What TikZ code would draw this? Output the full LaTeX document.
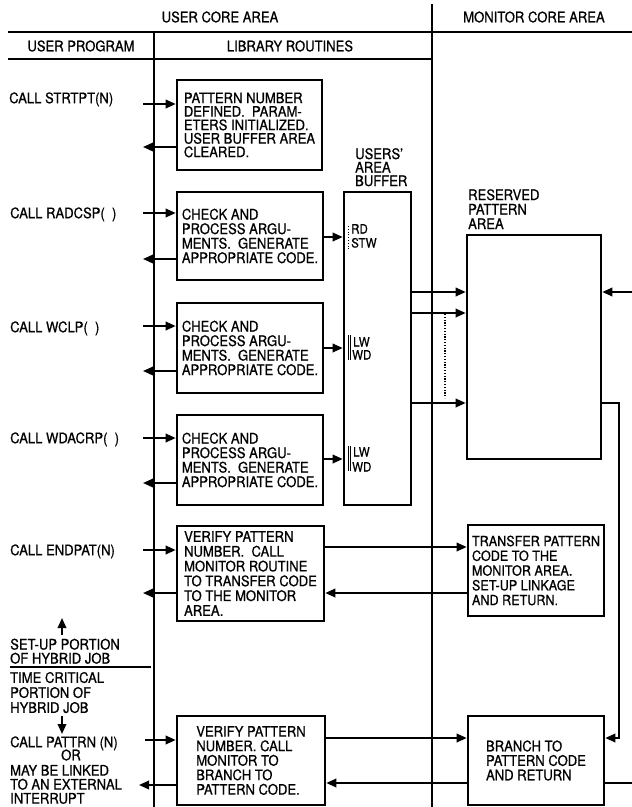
\documentclass[tikz,border=0pt]{standalone}
\usepackage{fontspec}
\setmainfont{TeX Gyre Heros}[FakeBold=0.7, FakeStretch=0.9]
\usetikzlibrary{arrows.meta}
\newcommand\fsm{\fontsize{14.5}{14.5}\selectfont}
\newcommand\fsa{\fontsize{14.5}{13.5}\selectfont}
\newcommand\fsb{\fontsize{14.5}{14.8}\selectfont}
\newcommand\fst{\fontsize{14}{14.75}\selectfont}
\newcommand\fsl{\fontsize{12.8}{13}\selectfont}
\begin{document}
\begin{tikzpicture}[x=1pt,y=-1pt,
  pbox/.style={draw, line width=2.6pt, rectangle, align=left, inner sep=0pt, font=\fsm},
  arr/.style={line width=1.8pt, -{Triangle[length=10pt,width=8.5pt]}},
  ln/.style={line width=1.8pt},
  hdr/.style={line width=2.1pt},
  thin/.style={line width=0.8pt},
  lbl/.style={inner sep=0pt, font=\fsm},
  mlbl/.style={inner sep=0pt, font=\fsm, align=left, anchor=north west}
]
\useasboundingbox (0,0) rectangle (632,807);

% ---------- header ----------
\node[lbl] (hUser) at (220,17) {USER CORE AREA};
\node[lbl] (hMon)  at (534,17) {MONITOR CORE AREA};
\node[lbl] (hProg) at (81,46) {USER PROGRAM};
\node[lbl] (hLib)  at (290,46) {LIBRARY ROUTINES};
\coordinate (gA) at (8,32);   \coordinate (gB) at (632,32);
\coordinate (gC) at (8,59);   \coordinate (gD) at (432,59);
\coordinate (vA) at (154,32); \coordinate (vB) at (154,807);
\coordinate (vC) at (432,4);  \coordinate (vD) at (432,807);
\draw[hdr] (gA) -- (gB);
\draw[hdr] (gC) -- (gD);
\draw[hdr] (vA) -- (vB);
\draw[hdr] (vC) -- (vD);

% ---------- library routine boxes ----------
\node[pbox, font=\fsa, minimum width=145pt, minimum height=90pt] (b1) at (249.5,125)
  {PATTERN NUMBER\\DEFINED.~~PARAM-\\ETERS INITIALIZED.\\USER BUFFER AREA\\CLEARED.};
\node[pbox, minimum width=146pt, minimum height=88pt] (b2) at (250,236)
  {CHECK AND\\PROCESS ARGU-\\MENTS.~~GENERATE\\APPROPRIATE CODE.};
\node[pbox, minimum width=146pt, minimum height=90pt] (b3) at (250,348)
  {CHECK AND\\PROCESS ARGU-\\MENTS.~~GENERATE\\APPROPRIATE CODE.};
\node[pbox, minimum width=146pt, minimum height=90pt] (b4) at (250,460)
  {CHECK AND\\PROCESS ARGU-\\MENTS.~~GENERATE\\APPROPRIATE CODE.};
\node[pbox, font=\fsb, minimum width=147pt, minimum height=95pt] (b5) at (250.5,573.5)
  {VERIFY PATTERN\\NUMBER.~~CALL\\MONITOR ROUTINE\\TO TRANSFER CODE\\TO THE MONITOR\\AREA.};
\node[pbox, minimum width=148pt, minimum height=89pt] (b6) at (251,760.5)
  {VERIFY PATTERN\\NUMBER. CALL\\MONITOR TO\\BRANCH TO\\PATTERN CODE.};

% ---------- buffer and monitor boxes ----------
\node[pbox, minimum width=67pt, minimum height=313pt] (bf) at (377.5,348.5) {};
\node[pbox, minimum width=134pt, minimum height=224pt] (rb) at (534,347) {};
\node[pbox, font=\fst, minimum width=136pt, minimum height=91pt] (b7) at (536,570.5)
  {TRANSFER PATTERN\\CODE TO THE\\MONITOR AREA.\\SET-UP LINKAGE\\AND RETURN.};
\node[pbox, minimum width=136pt, minimum height=89pt] (b8) at (536,760.5)
  {BRANCH TO\\PATTERN CODE\\AND RETURN};

\node[mlbl, font=\fsa] (tUsr) at (355,148) {USERS'\\AREA\\BUFFER};
\node[mlbl] (tRes) at (468,189) {RESERVED\\PATTERN\\AREA};

% buffer labels
\node[lbl, font=\fsl, anchor=base west] (lRD)  at (351,233.5) {RD};
\node[lbl, font=\fsl, anchor=base west] (lSTW) at (351,247.5) {STW};
\node[lbl, font=\fsl, anchor=base west] (lLW1) at (353,346.5) {LW};
\node[lbl, font=\fsl, anchor=base west] (lWD1) at (352,359.5) {WD};
\node[lbl, font=\fsl, anchor=base west] (lLW2) at (353,456.5) {LW};
\node[lbl, font=\fsl, anchor=base west] (lWD2) at (352,471.5) {WD};
\coordinate (kA1) at (348,226); \coordinate (kA2) at (348,249);
\draw[thin, dotted] (kA1) -- (kA2);
\coordinate (kB1) at (348,335); \coordinate (kB2) at (348,360);
\coordinate (kB3) at (350.5,335); \coordinate (kB4) at (350.5,360);
\draw[thin] (kB1) -- (kB2); \draw[thin] (kB3) -- (kB4);
\coordinate (kC1) at (348,446); \coordinate (kC2) at (348,471);
\coordinate (kC3) at (350.5,446); \coordinate (kC4) at (350.5,471);
\draw[thin] (kC1) -- (kC2); \draw[thin] (kC3) -- (kC4);

% ---------- user program labels ----------
\node[lbl, anchor=base west] (c1) at (9,103.2)  {CALL STRTPT(N)};
\node[lbl, anchor=base west] (c2) at (10,218.2) {CALL RADCSP(~~)};
\node[lbl, anchor=base west] (c3) at (10,332.2) {CALL WCLP(~~)};
\node[lbl, anchor=base west] (c4) at (10,443.2) {CALL WDACRP(~~)};
\node[lbl, anchor=base west] (c5) at (10,555.2) {CALL ENDPAT(N)};
\node[mlbl, font={\fontsize{14.5}{14}\selectfont}] (c6) at (10,638.5) {SET-UP PORTION\\OF HYBRID JOB};
\node[mlbl, font={\fontsize{14.5}{15}\selectfont}] (c7) at (10,671.8) {TIME CRITICAL\\PORTION OF\\HYBRID JOB};
\node[lbl, anchor=base west] (c8) at (10,747.2) {CALL PATTRN (N)};
\node[lbl] (c9) at (71,755) {OR};
\node[mlbl, font={\fontsize{14.5}{14}\selectfont}] (c10) at (10,764.8) {MAY BE LINKED\\TO AN EXTERNAL\\INTERRUPT};

% separator and portion arrows
\coordinate (sA) at (10,667); \coordinate (sB) at (151,667);
\draw[line width=1.5pt] (sA) -- (sB);
\coordinate (uA) at (62,635); \coordinate (uB) at (62,618);
\draw[arr] (uA) -- (uB);
\coordinate (dA) at (62,716); \coordinate (dB) at (62,734);
\draw[arr] (dA) -- (dB);

% ---------- calls in / returns out ----------
\coordinate (i1) at (143,104); \coordinate (o1) at (143,147);
\coordinate (i2) at (143,213); \coordinate (o2) at (143,259);
\coordinate (i3) at (143,326); \coordinate (o3) at (143,371);
\coordinate (i4) at (143,438); \coordinate (o4) at (143,483);
\coordinate (i5) at (143,550); \coordinate (o5) at (143,593);
\coordinate (i6) at (145,740); \coordinate (o6) at (139,785);
\foreach \k in {1,...,6}{
  \draw[arr] (i\k) -- (i\k -| b\k.west);
  \draw[arr] (o\k -| b\k.west) -- (o\k);
}

% ---------- to users' buffer ----------
\coordinate (k2) at (340,237);
\coordinate (k3) at (340,348);
\coordinate (k4) at (340,459);
\draw[arr] (k2 -| b2.east) -- (k2 -| bf.west);
\draw[arr] (k3 -| b3.east) -- (k3 -| bf.west);
\draw[arr] (k4 -| b4.east) -- (k4 -| bf.west);

% ---------- buffer to reserved pattern area ----------
\coordinate (r1) at (440,292);
\coordinate (r2) at (440,313);
\coordinate (r3) at (440,403);
\draw[arr] (r1 -| bf.east) -- (r1 -| rb.west);
\draw[arr] (r2 -| bf.east) -- (r2 -| rb.west);
\draw[arr] (r3 -| bf.east) -- (r3 -| rb.west);
\coordinate (dt1) at (445,314); \coordinate (dt2) at (445,398);
\draw[line width=1.6pt, dash pattern=on 1.2pt off 1.6pt] (dt1) -- (dt2);

% from right edge into reserved area
\coordinate (re) at (632,292);
\draw[arr] (re) -- (re -| rb.east);

% reserved area down to branch box
\coordinate (fb1) at (619,403);
\coordinate (fb2) at (619,738);
\draw[arr] (rb.east |- fb1) -- (fb1) -- (fb2) -- (fb2 -| b8.east);

% ---------- ENDPAT <-> transfer ----------
\coordinate (t1) at (400,547);
\coordinate (t2) at (400,593);
\draw[arr] (t1 -| b5.east) -- (t1 -| b7.west);
\draw[arr] (t2 -| b7.west) -- (t2 -| b5.east);

% ---------- PATTRN <-> branch ----------
\coordinate (t3) at (400,738);
\coordinate (t4) at (400,783);
\draw[arr] (t3 -| b6.east) -- (t3 -| b8.west);
\draw[arr] (t4 -| b8.west) -- (t4 -| b6.east);
\coordinate (t5) at (632,783);
\draw[ln] (t5 -| b8.east) -- (t5);

\end{tikzpicture}
\end{document}
